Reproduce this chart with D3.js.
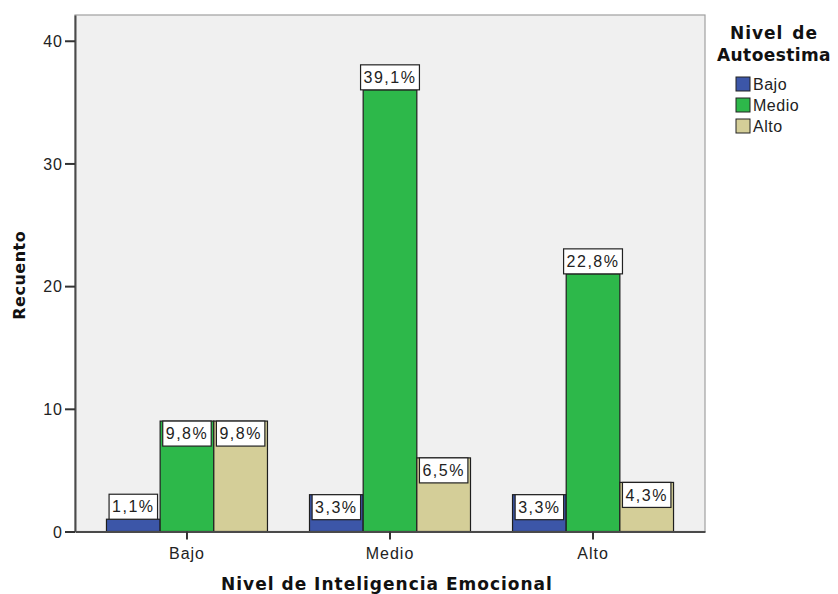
<!DOCTYPE html>
<html>
<head>
<meta charset="utf-8">
<script src="https://cdn.jsdelivr.net/npm/d3@7"></script>
<style>
  body { margin: 0; background: #fff; }
  svg text { font-family: "Liberation Sans", Arial, sans-serif; }
</style>
</head>
<body>
<svg id="chart" width="838" height="594"></svg>
<script>
// categories (x) and series (legend)
var categories = ["Bajo", "Medio", "Alto"];
var series = ["Bajo", "Medio", "Alto"];
// counts per series, one value per category
var bajoCounts = [1, 3, 3];
var medioCounts = [9, 36, 21];
var altoCounts = [9, 6, 4];
var pctLabels = [
  ["1,1%", "3,3%", "3,3%"],
  ["9,8%", "39,1%", "22,8%"],
  ["9,8%", "6,5%", "4,3%"]
];
var yTicks = [0, 10, 20, 30, 40];
var colors = ["#3c56a8", "#2db84a", "#d4ce98"];

var counts = [bajoCounts, medioCounts, altoCounts];
var data = [];
categories.forEach(function (c, i) {
  series.forEach(function (s, j) {
    data.push({ cat: c, ser: s, value: counts[j][i], label: pctLabels[j][i], idx: j });
  });
});

var svg = d3.select("#chart");
var plotL = 75, plotR = 705, plotT = 15, plotB = 531.5;

var x = d3.scaleBand().domain(categories).range([plotL, plotR])
  .paddingInner(0.207).paddingOuter(0.155);
var xs = d3.scaleBand().domain(series).range([0, x.bandwidth()]);
var y = d3.scaleLinear().domain([0, 42.1]).range([plotB, plotT]);

// plot background + frame
svg.append("rect")
  .attr("x", plotL).attr("y", plotT)
  .attr("width", plotR - plotL).attr("height", plotB - plotT)
  .attr("fill", "#f0f0f0").attr("stroke", "#a0a0a0").attr("stroke-width", 1.2);

// bars
svg.append("g").selectAll("rect")
  .data(data).enter().append("rect")
    .attr("x", function (d) { return x(d.cat) + xs(d.ser); })
    .attr("y", function (d) { return y(d.value); })
    .attr("width", xs.bandwidth())
    .attr("height", function (d) { return y(0) - y(d.value); })
    .attr("fill", function (d) { return colors[d.idx]; })
    .attr("stroke", "#1e1e1e").attr("stroke-width", 1.2);

// axes
var yAxis = svg.append("g").attr("transform", "translate(" + plotL + ",0)")
  .call(d3.axisLeft(y).tickValues(yTicks).tickSize(10).tickSizeOuter(0).tickPadding(2));
var xAxis = svg.append("g").attr("transform", "translate(0," + plotB + ")")
  .call(d3.axisBottom(x).tickSize(8).tickSizeOuter(0).tickPadding(6));
[yAxis, xAxis].forEach(function (g) {
  g.select(".domain").attr("stroke", "#4a4a4a").attr("stroke-width", 2);
  g.selectAll(".tick line").attr("stroke", "#333").attr("stroke-width", 2);
  g.selectAll(".tick text").attr("fill", "#222")
    .style("font-family", "Liberation Sans, Arial, sans-serif")
    .style("font-size", "16px").style("letter-spacing", "1px");
});
xAxis.selectAll(".tick text").attr("dy", "0.85em");
yAxis.selectAll(".tick text").attr("dy", "0.35em");

// value labels
var boxH = 25;
var lab = svg.append("g").selectAll("g").data(data).enter().append("g");
lab.each(function (d) {
  var g = d3.select(this);
  var cx = x(d.cat) + xs(d.ser) + xs.bandwidth() / 2;
  var barH = y(0) - y(d.value);
  var yTop = (barH < boxH || d.value >= 20) ? y(d.value) - boxH : y(d.value);
  var rect = g.append("rect").attr("fill", "#fff").attr("stroke", "#222").attr("stroke-width", 1.2);
  var t = g.append("text").text(d.label)
    .attr("x", cx).attr("y", yTop + boxH / 2).attr("dy", "0.36em")
    .attr("text-anchor", "middle").attr("fill", "#222")
    .style("font-size", "16px").style("letter-spacing", "1.5px");
  var w = t.node().getComputedTextLength() + 6;
  rect.attr("x", cx - w / 2).attr("y", yTop).attr("width", w).attr("height", boxH);
});

// axis titles
svg.append("text")
  .attr("transform", "translate(25," + ((plotT + plotB) / 2 + 2) + ") rotate(-90)")
  .attr("text-anchor", "middle")
  .style("font-family", "DejaVu Sans, Verdana, sans-serif")
  .style("font-weight", "bold").style("font-size", "16px").style("letter-spacing", "0.5px")
  .attr("fill", "#111").text("Recuento");
svg.append("text")
  .attr("x", 387).attr("y", 590)
  .attr("text-anchor", "middle")
  .style("font-family", "DejaVu Sans, Verdana, sans-serif")
  .style("font-weight", "bold").style("font-size", "17px").style("letter-spacing", "1px")
  .attr("fill", "#111").text("Nivel de Inteligencia Emocional");

// legend
var leg = svg.append("g");
["Nivel de", "Autoestima"].forEach(function (s, i) {
  leg.append("text").attr("x", 774).attr("y", 39 + i * 22)
    .attr("text-anchor", "middle")
    .style("font-family", "DejaVu Sans, Verdana, sans-serif")
    .style("font-weight", "bold").style("font-size", "17px")
    .style("letter-spacing", i === 0 ? "1px" : "0.4px")
    .style("word-spacing", "2px")
    .attr("fill", "#111").text(s);
});
var items = leg.selectAll("g.item").data(series).enter().append("g")
  .attr("transform", function (d, i) { return "translate(736," + (77 + i * 21) + ")"; });
items.append("rect").attr("width", 14).attr("height", 14)
  .attr("fill", function (d, i) { return colors[i]; })
  .attr("stroke", "#222").attr("stroke-width", 1);
items.append("text").attr("x", 17).attr("y", 7).attr("dy", "0.36em")
  .style("font-size", "16px").style("letter-spacing", "0.5px")
  .attr("fill", "#222").text(function (d) { return d; });
</script>
</body>
</html>
